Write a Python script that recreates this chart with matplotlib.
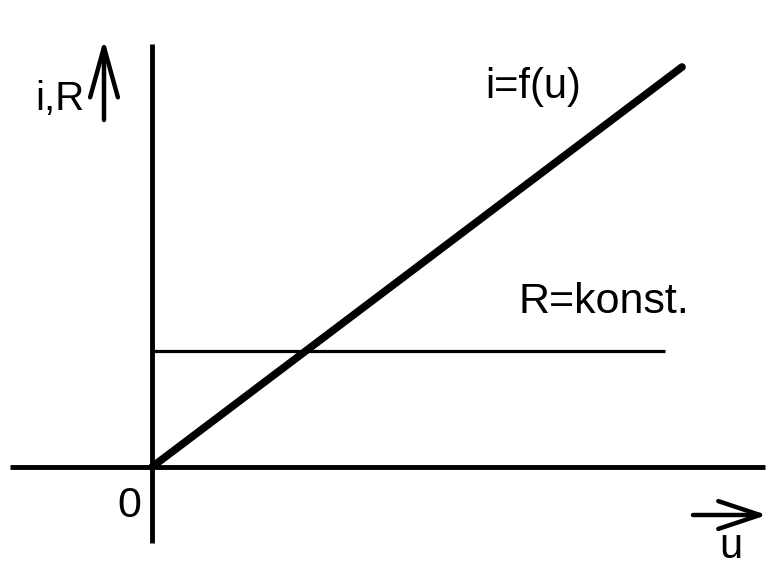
import matplotlib
matplotlib.use("Agg")
import matplotlib.pyplot as plt

# data (in drawing units, origin at the axes crossing)
u_line = [0, 530]
i_line = [0, 400]
r_u = [0, 513]
r_val = [116, 116]

plt.rcParams['font.family'] = ['Liberation Sans', 'DejaVu Sans']

fig = plt.figure(figsize=(7.69, 5.69), dpi=100)
ax = fig.add_axes([0, 0, 1, 1])
ax.set_xlim(-152, 617)
ax.set_ylim(-102, 467)
ax.axis('off')

# axes
ax.plot([-142, 613], [0, 0], color='black', lw=3.5, solid_capstyle='butt')
ax.plot([0, 0], [-76, 423], color='black', lw=3.5, solid_capstyle='butt')

# curves
ax.plot(u_line, i_line, color='black', lw=5.5, solid_capstyle='round')
ax.plot(r_u, r_val, color='black', lw=2.3, solid_capstyle='butt')

# arrows
ax.annotate('', xy=(-48, 428), xytext=(-48, 347),
            arrowprops=dict(arrowstyle='->,head_length=1.8,head_width=0.5', lw=3.2,
                            color='black', mutation_scale=20, shrinkA=0, shrinkB=0))
ax.annotate('', xy=(615, -48), xytext=(541, -48),
            arrowprops=dict(arrowstyle='->,head_length=1.5,head_width=0.5', lw=3.2,
                            color='black', mutation_scale=20, shrinkA=0, shrinkB=0))

ax.text(-117, 357, 'i,R', fontsize=29, ha='left', va='baseline')
ax.text(333, 369, 'i=f(u)', fontsize=30, ha='left', va='baseline')
ax.text(367, 154, 'R=konst.', fontsize=31, ha='left', va='baseline')
ax.text(-23, -50, '0', fontsize=31, ha='center', va='baseline')
ax.text(579, -91, 'u', fontsize=30, ha='center', va='baseline')

fig.savefig('out.png', dpi=100)
